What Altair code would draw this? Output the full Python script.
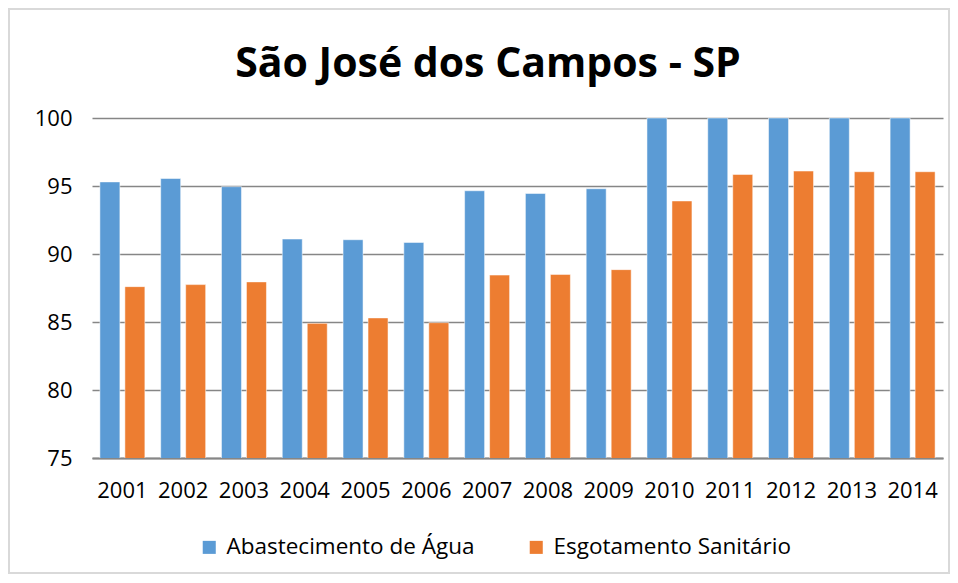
import altair as alt
import pandas as pd

years = ["2001", "2002", "2003", "2004", "2005", "2006", "2007",
         "2008", "2009", "2010", "2011", "2012", "2013", "2014"]
agua = [95.3, 95.55, 94.95, 91.1, 91.05, 90.85, 94.65,
        94.45, 94.8, 100, 100, 100, 100, 100]
esgoto = [87.6, 87.75, 87.95, 84.9, 85.3, 84.95, 88.45,
          88.5, 88.85, 93.9, 95.85, 96.1, 96.05, 96.05]
series = ["Abastecimento de Água", "Esgotamento Sanitário"]
colors = ["#5B9BD5", "#ED7D31"]
title_text = "São José dos Campos - SP"

rows = []
for i, y in enumerate(years):
    rows.append({"ano": y, "serie": series[0], "valor": agua[i]})
    rows.append({"ano": y, "serie": series[1], "valor": esgoto[i]})
df = pd.DataFrame(rows)

FONT = "Open Sans"
W, H = 851, 340

bars = alt.Chart(df).mark_bar(clip=True, stroke="white", strokeOpacity=0.5, strokeWidth=1).encode(
    x=alt.X("ano:N", sort=years, title=None,
            scale=alt.Scale(paddingInner=0.26, paddingOuter=0.13),
            axis=alt.Axis(labelAngle=0, labelFontSize=22, labelFont=FONT, labelColor="#000000",
                          labelPadding=22, ticks=False, domainColor="#868686", domainWidth=2,
                          grid=False)),
    xOffset=alt.XOffset("serie:N", sort=series, scale=alt.Scale(paddingInner=0.2, paddingOuter=0)),
    y=alt.Y("valor:Q", title=None,
            scale=alt.Scale(domain=[75, 100], zero=False, nice=False),
            axis=alt.Axis(values=[75, 80, 85, 90, 95, 100], labelFontSize=22, labelFont=FONT,
                          labelColor="#000000", labelPadding=20, ticks=False, domain=False,
                          gridColor="#868686", gridWidth=1.5)),
    color=alt.Color("serie:N", sort=series,
                    scale=alt.Scale(domain=series, range=colors),
                    legend=alt.Legend(title=None, orient="none", direction="horizontal",
                                      legendX=106, legendY=418, symbolType="square",
                                      symbolSize=170, symbolStrokeWidth=0, labelFontSize=22.5,
                                      labelFont=FONT, labelColor="#000000", columnPadding=50,
                                      labelOffset=6, labelLimit=0)),
)

border = alt.Chart(df).mark_rect(filled=False, stroke="#D9D9D9", strokeWidth=1.5).encode(
    x=alt.value(-83), x2=alt.value(W + 6), y=alt.value(-109), y2=alt.value(H + 115)
)

title = alt.Chart(pd.DataFrame({"t": [title_text]})).mark_text(
    font=FONT, fontSize=41, fontWeight="bold", color="#000000", align="center",
    baseline="alphabetic"
).encode(text="t:N", x=alt.value(396), y=alt.value(-41))

chart = alt.layer(bars, border, title).properties(
    width=W, height=H,
    autosize=alt.AutoSizeParams(type="none"),
    padding={"left": 84, "top": 110, "right": 7, "bottom": 117},
).configure_view(stroke=None)

chart.save("out.html", embed_options={"renderer": "svg", "actions": False})
